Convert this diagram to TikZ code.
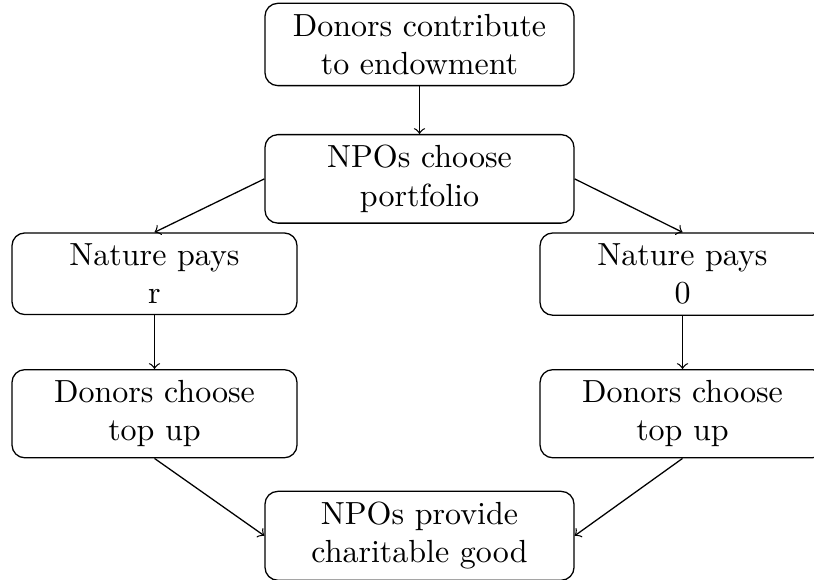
\documentclass[tikz,border=0pt]{standalone}
\usetikzlibrary{positioning}
\begin{document}
\begin{tikzpicture}[x=0.3125pt,y=-0.3125pt,
  midbox/.style={draw,rounded corners,align=center,anchor=north,text width=89.9pt,inner sep=3.333pt},
  sidebox/.style={draw,rounded corners,align=center,anchor=north,text width=82.4pt,inner sep=3.333pt},
  conn/.style={->}]
\useasboundingbox (0,0) rectangle (814,579);
\node[midbox] (top) at (419.5,2.7) {Donors contribute\\to endowment};
\node[midbox] (npo) at (419.5,134) {NPOs choose\\portfolio};
\node[sidebox] (nl) at (154.5,232.3) {Nature pays\\r};
\node[sidebox] (nr) at (682.5,232.3) {Nature pays\\0};
\node[sidebox] (dl) at (154.5,369) {Donors choose\\top up};
\node[sidebox] (dr) at (682.5,369) {Donors choose\\top up};
\node[midbox] (bot) at (419.5,490.7) {NPOs provide\\charitable good};
\draw[conn] (top.south) -- (npo.north);
\draw[conn] (npo.west) -- (nl.north);
\draw[conn] (npo.east) -- (nr.north);
\draw[conn] (nl.south) -- (dl.north);
\draw[conn] (nr.south) -- (dr.north);
\draw[conn] (dl.south) -- (bot.west);
\draw[conn] (dr.south) -- (bot.east);
\end{tikzpicture}
\end{document}
